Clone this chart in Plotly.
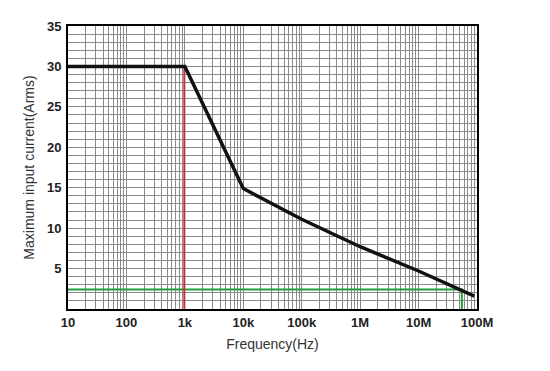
import plotly.graph_objects as go

# Data
freq_hz = [10, 1000, 10000, 100000, 1000000, 10000000, 90000000]
max_current_arms = [30, 30, 14.9, 11.1, 7.7, 4.7, 1.6]

red_marker_freq = [980, 980]
red_marker_current = [30, -0.3]

green_freq = [10, 55000000, 55000000]
green_current = [2.4, 2.4, -0.1]

x_tick_labels = ["10", "100", "1k", "10k", "100k", "1M", "10M", "100M"]
y_tick_labels = ["5", "10", "15", "20", "25", "30", "35"]

# Build tick/grid lists (every digit per decade on x, every unit on y)
xvals, xtext = [], []
for d in range(1, 9):
    base = 10 ** d
    if d < 8:
        for m in range(1, 10):
            xvals.append(m * base)
            xtext.append(x_tick_labels[d - 1] if m == 1 else "")
    else:
        xvals.append(base)
        xtext.append(x_tick_labels[d - 1])

yvals = list(range(0, 36))
ytext = [str(v) if (v % 5 == 0 and str(v) in y_tick_labels) else "" for v in yvals]

tick_font = dict(family="Liberation Sans, Arial, sans-serif",
                 size=13, weight="bold", color="#222222")

fig = go.Figure()
fig.add_trace(go.Scatter(x=green_freq, y=green_current, mode="lines",
                         line=dict(color="#1f9e3a", width=2), cliponaxis=False,
                         hoverinfo="skip"))
fig.add_trace(go.Scatter(x=red_marker_freq, y=red_marker_current, mode="lines",
                         line=dict(color="#d42a32", width=2), cliponaxis=False,
                         hoverinfo="skip"))
fig.add_trace(go.Scatter(x=freq_hz, y=max_current_arms, mode="lines",
                         line=dict(color="#111111", width=3.5)))

fig.update_layout(
    width=542, height=363,
    margin=dict(l=60, r=73, t=18, b=62),
    paper_bgcolor="white", plot_bgcolor="white",
    showlegend=False,
    font=dict(family="Liberation Sans, Arial, sans-serif", color="#222222"),
)
fig.update_xaxes(
    type="log", range=[1, 8], automargin=False,
    tickvals=xvals, ticktext=xtext,
    tickfont=tick_font,
    showgrid=True, gridcolor="#8a8a8a", gridwidth=1,
    showline=True, linecolor="black", linewidth=2, mirror=True,
    ticks="", zeroline=False,
    title=dict(text="Frequency(Hz)", font=dict(size=14, color="#333333"), standoff=11),
)
fig.update_yaxes(
    range=[0, 35], automargin=False,
    tickvals=yvals, ticktext=ytext,
    tickfont=tick_font,
    showgrid=True, gridcolor="#8a8a8a", gridwidth=1,
    showline=True, linecolor="black", linewidth=2, mirror=True,
    ticks="", zeroline=False, ticklabelstandoff=2,
    title=dict(text="Maximum input current(Arms)", font=dict(size=14, color="#333333"), standoff=9),
)

fig.write_html("out.html")
